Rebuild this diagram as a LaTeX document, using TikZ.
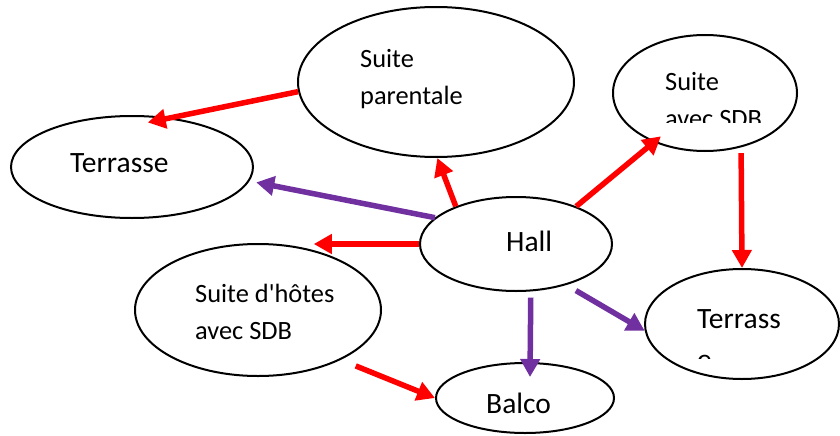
\documentclass[tikz,border=0pt]{standalone}
\usepackage{fontspec}
\setmainfont{Carlito}
\usepackage{xcolor}
\usetikzlibrary{shapes.geometric,arrows.meta}
\definecolor{roompurple}{RGB}{112,48,160}
\tikzset{
	room/.style n args={2}{draw=black,line width=2pt,ellipse,inner sep=0pt,minimum width=#1,minimum height=#2},
	lbl/.style={anchor=base west,inner sep=0pt,font=\fontsize{26.4}{37}\selectfont},
	biglbl/.style={lbl,font=\fontsize{29.5}{41}\selectfont},
	redarr/.style={draw=red,line width=5.5pt,-{Triangle[length=18pt,width=19pt]}},
	purplearr/.style={redarr,draw=roompurple}
}

\begin{document}
\begin{tikzpicture}[x=1pt,y=-1pt]
	\useasboundingbox (0,0) rectangle (840,436);
	
	\node[room={276pt}{150pt}] (parentale) at (436,82) {};
	\node[room={184pt}{116pt}] (sdb) at (705,93) {};
	\node[room={242pt}{102pt}] (terrL) at (132,167) {};
	\node[room={192pt}{94pt}] (hall) at (516,244) {};
	\node[room={246pt}{132pt}] (hotes) at (258,310) {};
	\node[room={194pt}{110pt}] (terrR) at (742,324) {};
	\node[room={178pt}{70pt}] (balco) at (525,398) {};
	
	\node[lbl] (parentaleA) at (360,67) {Suite};
	\node[lbl] (parentaleB) at (360,104) {parentale};
	\node[lbl] (sdbA) at (665,90) {Suite};
	\begin{scope}
		\clip (600,0) rectangle (800,122);
		\node[lbl] (sdbB) at (665,127) {avec SDB};
	\end{scope}
	\node[biglbl] (terrLA) at (70,172) {Terrasse};
	\node[biglbl] (hallA) at (506,251) {Hall};
	\node[lbl] (hotesA) at (195,302) {Suite d\textquotesingle hôtes};
	\node[lbl] (hotesB) at (195,339) {avec SDB};
	\node[biglbl] (terrRA) at (697,328) {Terrass};
	\begin{scope}
		\clip (640,300) rectangle (840,358);
		\node[biglbl] (terrRB) at (697,369) {e};
	\end{scope}
	\node[biglbl] (balcoA) at (486,413) {Balco};
	
	\draw[redarr] (parentale.184) -- ([shift={(-1,7)}]terrL.72);
	\draw[purplearr] (hall.162) -- ([shift={(7,1)}]terrL.-7);
	\draw[redarr] (hall.west) -- (hall.west -| hotes.47);
	\draw[redarr] (hall.148) -- (parentale.271);
	\draw[redarr] (hall.32) -- ([shift={(7,-6)}]sdb.224);
	\draw[redarr] ([shift={(3,5)}]sdb.-59) -- (terrR.north);
	\draw[purplearr] ([shift={(2,6)}]hall.-75) -- ([shift={(5,15)}]balco.north);
	\draw[purplearr] ([shift={(8,6)}]hall.-38) -- (terrR.184);
	\draw[redarr] ([shift={(13,7)}]hotes.-30) -- (balco.west);
	
\end{tikzpicture}
\end{document}
